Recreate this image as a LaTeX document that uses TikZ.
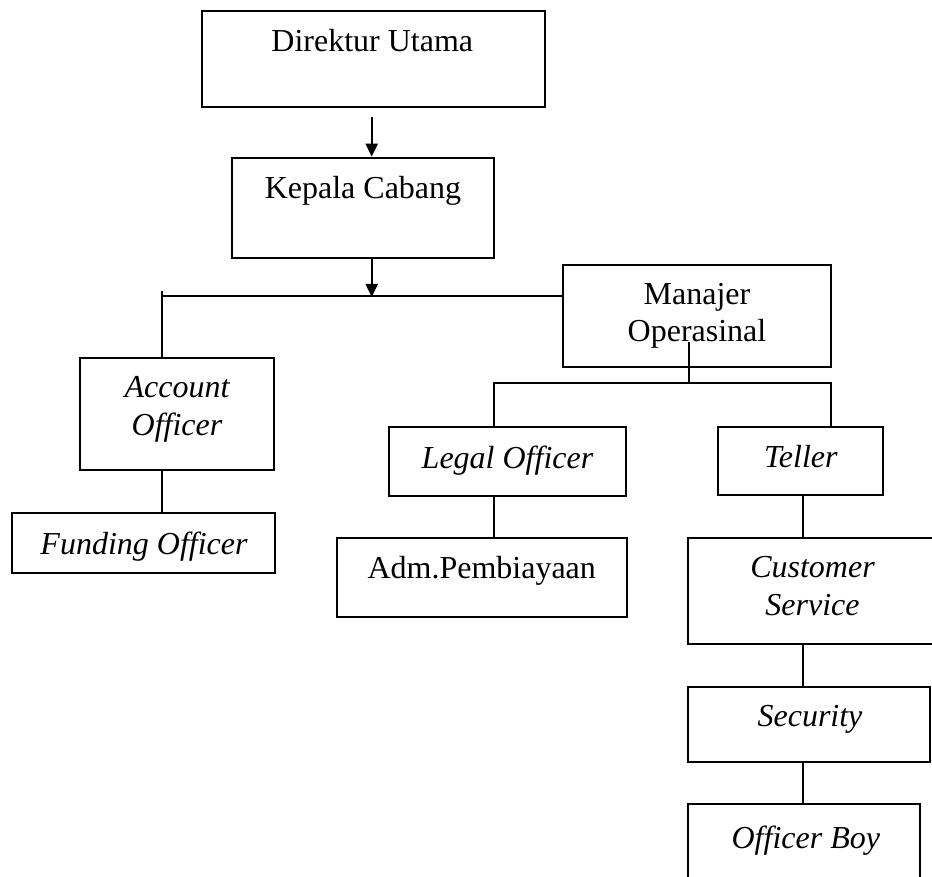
\documentclass[tikz,border=0pt]{standalone}
\usepackage{fontspec}
\setmainfont{Liberation Serif}
\usetikzlibrary{arrows.meta, positioning, calc}

\begin{document}
\begin{tikzpicture}[x=1pt, y=-1pt, >={Triangle[length=13pt, width=12pt]},
    box/.style={draw, line width=2pt, inner sep=0pt},
    lbl/.style={font=\fontsize{32}{37}\selectfont, anchor=base, inner sep=0pt, align=center},
    link/.style={line width=2pt}]
  \useasboundingbox (0,0) rectangle (932,877);

  % Boxes
  \node[box, minimum width=343.3pt, minimum height=96.6pt] (dir) at (373.35,59) {};
  \node[box, minimum width=262.3pt, minimum height=100pt] (kep) at (362.85,207.7) {};
  \node[box, minimum width=267.7pt, minimum height=102.3pt] (man) at (697.15,316.15) {};
  \node[box, minimum width=194pt, minimum height=111.7pt] (acc) at (177,414.15) {};
  \node[box, minimum width=262.7pt, minimum height=60pt] (fund) at (143.65,542.7) {};
  \node[box, minimum width=237pt, minimum height=69.3pt] (legal) at (507.5,461.35) {};
  \node[box, minimum width=290pt, minimum height=79pt] (adm) at (481.7,577.5) {};
  \node[box, minimum width=165pt, minimum height=68.3pt] (teller) at (800.8,460.85) {};
  \node[box, minimum width=248.7pt, minimum height=106.5pt] (cs) at (812.65,590.75) {};
  \node[box, minimum width=241.7pt, minimum height=75.6pt] (sec) at (809.15,724.5) {};
  \node[box, minimum width=231.7pt, minimum height=95.7pt] (ob) at (804.15,852.15) {};

  % Labels (two-line labels sit on their last baseline)
  \node[lbl] (dirT) at (372.3,51.7) {Direktur Utama};
  \node[lbl] (kepT) at (363,199) {Kepala Cabang};
  \node[lbl] (manT) at (697,341.7) {Manajer\\Operasinal};
  \node[lbl, font=\fontsize{32}{38}\selectfont\itshape] (accT) at (177,435) {Account\\Officer};
  \node[lbl, font=\fontsize{32}{37}\selectfont\itshape] (fundT) at (144,554) {Funding Officer};
  \node[lbl, font=\fontsize{32}{37}\selectfont\itshape] (legalT) at (507.5,468) {Legal Officer};
  \node[lbl] (admT) at (481.7,578) {Adm.Pembiayaan};
  \node[lbl, font=\fontsize{32}{37}\selectfont\itshape] (tellerT) at (800.8,467) {Teller};
  \node[lbl, font=\fontsize{32}{37.7}\selectfont\itshape] (csT) at (812.5,615) {Customer\\Service};
  \node[lbl, font=\fontsize{32}{37}\selectfont\itshape] (secT) at (810,726.7) {Security};
  \node[lbl, font=\fontsize{32}{37}\selectfont\itshape] (obT) at (805.8,848) {Officer Boy};

  % Arrows down the middle
  \coordinate (a1) at (371.7,117);
  \coordinate (j0) at (371.7,297);
  \draw[link, ->] (a1) -- (a1 |- kep.north);
  \draw[link, ->] (a1 |- kep.south) -- (j0);

  % Branch to the left and to Manajer
  \coordinate (jT) at (162.3,291);
  \coordinate (jL) at (162.3,296);
  \draw[link] (jL) -- (jL -| man.west);
  \draw[link] (jT) -- (jT |- acc.north);
  \draw[link] (jT |- acc.south) -- (jT |- fund.north);

  % Branch under Manajer
  \coordinate (mS) at (688.7,341.7);
  \coordinate (mJ) at (688.7,383.3);
  \coordinate (bL) at (494.3,383.3);
  \coordinate (bR) at (831,383.3);
  \draw[link] (mS) -- (mJ);
  \draw[link] (bL |- legal.north) -- (bL) -- (bR) -- (bR |- teller.north);
  \draw[link] (bL |- legal.south) -- (bL |- adm.north);

  % Right column
  \coordinate (rX) at (803.3,495);
  \draw[link] (rX |- teller.south) -- (rX |- cs.north);
  \draw[link] (rX |- cs.south) -- (rX |- sec.north);
  \draw[link] (rX |- sec.south) -- (rX |- ob.north);
\end{tikzpicture}
\end{document}
